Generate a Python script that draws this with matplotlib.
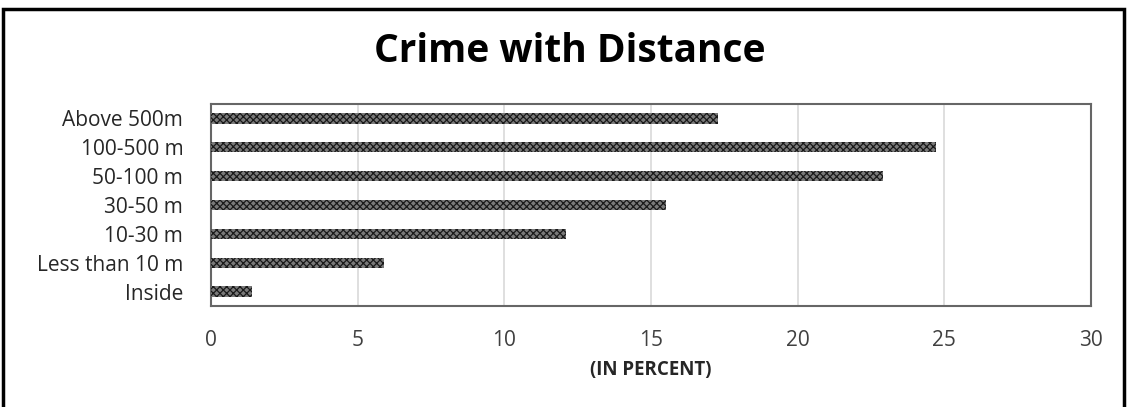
import matplotlib.pyplot as plt
from matplotlib.patches import Rectangle

categories = ['Inside', 'Less than 10 m', '10-30 m', '30-50 m', '50-100 m', '100-500 m', 'Above 500m']
values = [1.4, 5.9, 12.1, 15.5, 22.9, 24.7, 17.3]
xticks = [0, 5, 10, 15, 20, 25, 30]

plt.rcParams['font.family'] = ['Open Sans', 'DejaVu Sans']
plt.rcParams['hatch.linewidth'] = 0.9

fig = plt.figure(figsize=(11.28, 4.07), dpi=100)
ax = fig.add_axes([211 / 1128, 1 - 306 / 407, 880 / 1128, 202 / 407])

ax.barh(range(len(categories)), values, height=0.36, color='#7a7a7a',
        edgecolor='#1a1a1a', hatch='xxxxx', linewidth=0, zorder=3)

ax.set_xlim(0, 30)
ax.set_ylim(-0.5, len(categories) - 0.5)
ax.set_xticks(xticks)
ax.set_xticklabels([str(t) for t in xticks], fontsize=15, color='#404040')
ax.set_yticks(range(len(categories)))
ax.set_yticklabels(categories, fontsize=15, color='#262626')
ax.tick_params(axis='both', length=0)
ax.tick_params(axis='x', pad=17)
ax.tick_params(axis='y', pad=20)
ax.grid(axis='x', color='#d9d9d9', linewidth=1.2, zorder=0)

for s in ax.spines.values():
    s.set_color('#666666')
    s.set_linewidth(1.5)

ax.set_xlabel('(IN PERCENT)', fontsize=13.5, fontweight='bold', color='#262626', labelpad=7)
fig.text(570 / 1128, 1 - 52 / 407, 'Crime with Distance', ha='center', va='center',
         fontsize=28, fontweight='bold', color='black')

# outer black frame
fig.patches.append(Rectangle((3 / 1128, -0.05), 1121 / 1128, 1.05 - 9 / 407, transform=fig.transFigure,
                             fill=False, edgecolor='black', linewidth=2.5))

fig.savefig('out.png', dpi=100)
